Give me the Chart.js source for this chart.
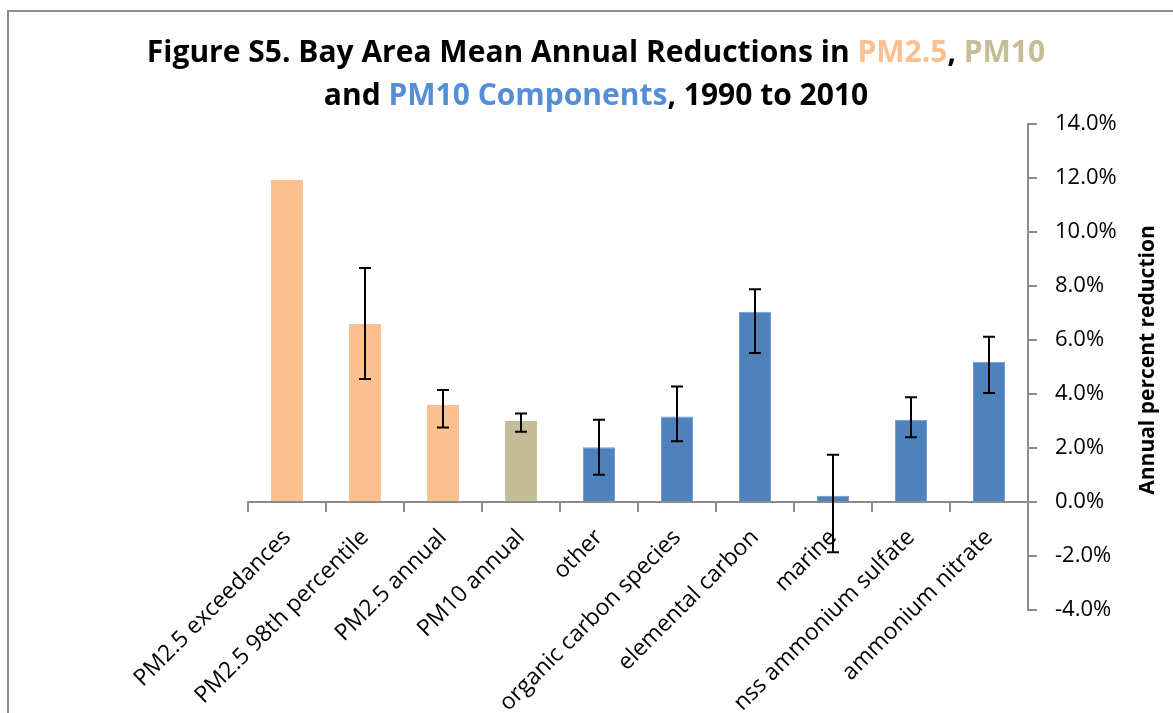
<!DOCTYPE html>
<html>
<head>
<meta charset="utf-8">
<script src="https://cdn.jsdelivr.net/npm/chart.js@4.4.0/dist/chart.umd.min.js"></script>
<style>
    html, body { margin: 0; padding: 0; background: #fff; overflow: hidden; }
    #frame { position: absolute; left: 7px; top: 10px; width: 1200px; height: 750px; border-left: 2px solid #8c8c8c; border-top: 2px solid #8c8c8c; }
    #barChart { position: absolute; left: 0; top: 0; }
</style>
</head>
<body>
<div id="frame"></div>
<canvas id="barChart" width="1173" height="713"></canvas>
<script>
const categories = [
    'PM2.5 exceedances',
    'PM2.5 98th percentile',
    'PM2.5 annual',
    'PM10 annual',
    'other',
    'organic carbon species',
    'elemental carbon',
    'marine',
    'nss ammonium sulfate',
    'ammonium nitrate'
];

// which family each bar belongs to (decides the colour)
const groups = ['PM2.5', 'PM2.5', 'PM2.5', 'PM10', 'component', 'component', 'component', 'component', 'component', 'component'];

// annual percent reduction, %
const reductions = [11.93, 6.59, 3.59, 3.00, 2.03, 3.17, 7.05, 0.23, 3.05, 5.19];
const errHigh = [null, 8.67, 4.15, 3.28, 3.05, 4.28, 7.88, 1.75, 3.88, 6.12];
const errLow = [null, 4.56, 2.76, 2.60, 1.01, 2.25, 5.52, -1.86, 2.40, 4.04];

const yMin = -4;
const yMax = 14;
const yStep = 2;

const groupColors = { 'PM2.5': '#FAC090', 'PM10': '#C4BD97', 'component': '#4F81BD' };
const groupEdges = { 'PM2.5': '#FAC090', 'PM10': '#C4BD97', 'component': '#6E9CD6' };
const axisGray = '#8c8c8c';

const titleLines = [
    [['Figure S5. Bay Area Mean Annual Reductions in ', '#000'], ['PM2.5', '#FAC090'], [', ', '#000'], ['PM10', '#C4BD97']],
    [['and ', '#000'], ['PM10 Components', '#558ED5'], [', 1990 to 2010', '#000']]
];
const yTitle = 'Annual percent reduction';

const errorBars = {
    id: 'errorBars',
    afterDatasetsDraw(chart) {
        const ctx = chart.ctx;
        const y = chart.scales.y;
        const meta = chart.getDatasetMeta(0);
        ctx.save();
        ctx.strokeStyle = '#000';
        ctx.lineWidth = 2;
        meta.data.forEach((bar, i) => {
            if (errHigh[i] === null) return;
            const top = y.getPixelForValue(errHigh[i]);
            const bottom = y.getPixelForValue(errLow[i]);
            ctx.beginPath();
            ctx.moveTo(bar.x, top);
            ctx.lineTo(bar.x, bottom);
            ctx.moveTo(bar.x - 6, top);
            ctx.lineTo(bar.x + 6, top);
            ctx.moveTo(bar.x - 6, bottom);
            ctx.lineTo(bar.x + 6, bottom);
            ctx.stroke();
        });
        ctx.restore();
    }
};

// title with coloured words, and the right-hand axis title read bottom to top
const titles = {
    id: 'titles',
    afterDraw(chart) {
        const ctx = chart.ctx;
        ctx.save();
        ctx.font = 'bold 30px "Open Sans"';
        ctx.textBaseline = 'alphabetic';
        ctx.textAlign = 'left';
        const baselines = [62, 105];
        titleLines.forEach((line, li) => {
            const total = line.reduce((w, seg) => w + ctx.measureText(seg[0]).width, 0);
            let x = 596 - total / 2;
            line.forEach(seg => {
                ctx.fillStyle = seg[1];
                ctx.fillText(seg[0], x, baselines[li]);
                x += ctx.measureText(seg[0]).width;
            });
        });

        ctx.font = 'bold 21px "Open Sans"';
        ctx.fillStyle = '#000';
        ctx.textAlign = 'center';
        ctx.textBaseline = 'middle';
        ctx.translate(1148, 360);
        ctx.rotate(-Math.PI / 2);
        ctx.fillText(yTitle, 0, 0);
        ctx.restore();
    }
};

const ctx = document.getElementById('barChart').getContext('2d');

new Chart(ctx, {
    type: 'bar',
    data: {
        labels: categories,
        datasets: [{
            data: reductions,
            backgroundColor: groups.map(g => groupColors[g]),
            borderColor: groups.map(g => groupEdges[g]),
            borderWidth: 1,
            barPercentage: 0.41,
            categoryPercentage: 1
        }]
    },
    options: {
        responsive: false,
        animation: false,
        layout: {
            padding: { left: 248, top: 124, right: 0, bottom: 103 }
        },
        plugins: {
            legend: { display: false },
            tooltip: { enabled: false },
            title: { display: false }
        },
        scales: {
            x: {
                position: { y: 0 },
                offset: true,
                grid: {
                    offset: true,
                    drawOnChartArea: false,
                    drawTicks: true,
                    tickLength: 9,
                    color: axisGray,
                    lineWidth: 2
                },
                border: { color: axisGray, width: 2 },
                ticks: {
                    color: '#000',
                    font: { family: 'Open Sans', size: 23 },
                    minRotation: 45,
                    maxRotation: 45,
                    autoSkip: false,
                    padding: 13
                },
                afterFit(scale) { scale.height = 0; }
            },
            y: {
                position: 'right',
                min: yMin,
                max: yMax,
                grid: {
                    drawOnChartArea: false,
                    tickLength: 9,
                    color: axisGray,
                    lineWidth: 2
                },
                border: { color: axisGray, width: 2 },
                ticks: {
                    stepSize: yStep,
                    color: '#000',
                    font: { family: 'Open Sans', size: 22 },
                    padding: 18,
                    callback: value => value.toFixed(1) + '%'
                },
                afterFit(scale) { scale.width = 145; }
            }
        }
    },
    plugins: [errorBars, titles]
});
</script>
</body>
</html>
